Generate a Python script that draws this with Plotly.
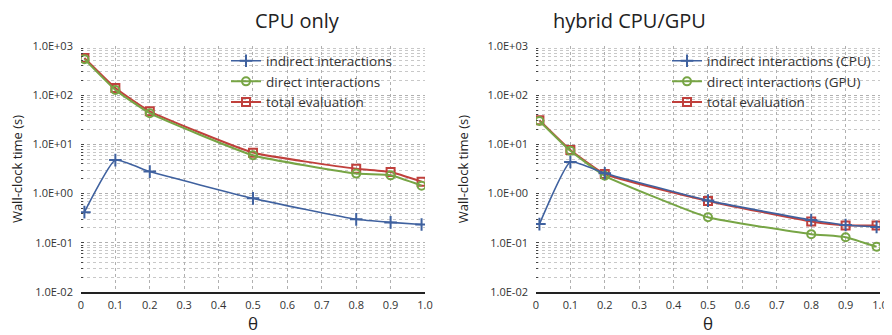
import plotly.graph_objects as go

theta = [0.01, 0.1, 0.2, 0.5, 0.8, 0.9, 0.99]

cpu_indirect = [0.42, 4.8, 2.8, 0.80, 0.30, 0.26, 0.235]
cpu_direct = [540, 128, 43, 6.0, 2.55, 2.35, 1.45]
cpu_total = [570, 140, 47, 6.8, 3.2, 2.75, 1.75]

gpu_indirect = [0.24, 4.4, 2.6, 0.72, 0.29, 0.23, 0.21]
gpu_direct = [30, 7.4, 2.3, 0.33, 0.15, 0.13, 0.083]
gpu_total = [31, 7.7, 2.5, 0.71, 0.27, 0.225, 0.225]

names_left = ["indirect interactions", "direct interactions", "total evaluation"]
names_right = ["indirect interactions (CPU)", "direct interactions (GPU)", "total evaluation"]

x_tickvals = [0, 0.1, 0.2, 0.3, 0.4, 0.5, 0.6, 0.7, 0.8, 0.9, 1.0]
x_ticktext = ["0", "0.1", "0.2", "0.3", "0.4", "0.5", "0.6", "0.7", "0.8", "0.9", "1.0"]
y_tickvals = [0.01, 0.1, 1, 10, 100, 1000]
y_ticktext = ["1.0E-02", "1.0E-01", "1.0E+00", "1.0E+01", "1.0E+02", "1.0E+03"]

BLUE = "#3f619f"
GREEN = "#77a545"
RED = "#c0403c"
FONT = "Open Sans"

fig = go.Figure()

def add_series(xa, ya, legend, ys, names):
    styles = [
        (BLUE, "cross-thin-open", 9, 1.6),
        (GREEN, "circle-open", 8, 2.0),
        (RED, "square-open", 8, 2.0),
    ]
    order = [2, 1, 0]
    for i in order:
        col, sym, sz, lw = styles[i]
        fig.add_trace(go.Scatter(
            x=theta, y=ys[i], name=names[i], xaxis=xa, yaxis=ya, legend=legend,
            mode="lines+markers",
            line=dict(color=col, width=lw, shape="spline", smoothing=0.4),
            marker=dict(symbol=sym, size=sz, color=col, line=dict(color=col, width=2)),
            legendrank=i + 1,
        ))

add_series("x", "y", "legend", [cpu_indirect, cpu_direct, cpu_total], names_left)
add_series("x2", "y2", "legend2", [gpu_indirect, gpu_direct, gpu_total], names_right)

xaxis_common = dict(
    range=[0, 1.0], tickvals=x_tickvals, ticktext=x_ticktext,
    showgrid=True, gridcolor="#b0b0b0", griddash="dot", gridwidth=1,
    showline=True, linecolor="#222222", linewidth=2, mirror=False,
    zeroline=False, ticks="", tickfont=dict(family=FONT, size=11, color="#333"),
    ticklabelstandoff=2,
    title=dict(text="θ", font=dict(family=FONT, size=17, color="#222"), standoff=3),
)
yaxis_common = dict(
    type="log", range=[-2, 3], tickvals=y_tickvals, ticktext=y_ticktext,
    showgrid=True, gridcolor="#b0b0b0", griddash="dot", gridwidth=1,
    minor=dict(showgrid=True, gridcolor="#c8c8c8", griddash="dot", gridwidth=1,
               ticks="inside", ticklen=2, tickcolor="#444", dtick="D1"),
    showline=False, zeroline=False, ticks="inside", ticklen=3, tickcolor="#444",
    tickfont=dict(family=FONT, size=11, color="#333"),
    ticklabelstandoff=7,
    title=dict(text="Wall-clock time (s)", font=dict(family=FONT, size=13, color="#222"), standoff=15),
)

legend_font = dict(family=FONT, size=13.5, color="#333")

fig.update_layout(
    width=892, height=335,
    margin=dict(l=0, r=0, t=0, b=0, autoexpand=False),
    paper_bgcolor="white", plot_bgcolor="white",
    showlegend=True,
    xaxis=dict(domain=[0.0818, 0.4675], anchor="y", **xaxis_common),
    yaxis=dict(domain=[0.1522, 0.8866], anchor="x", **yaxis_common),
    xaxis2=dict(domain=[0.5919, 0.9776], anchor="y2", **xaxis_common),
    yaxis2=dict(domain=[0.1522, 0.8866], anchor="x2", **yaxis_common),
    legend=dict(x=0.2444, y=0.888, xanchor="left", yanchor="top",
                bgcolor="rgba(255,255,255,0)", font=legend_font,
                tracegroupgap=0, itemwidth=30),
    legend2=dict(x=0.7388, y=0.888, xanchor="left", yanchor="top",
                 bgcolor="rgba(255,255,255,0)", font=legend_font,
                 tracegroupgap=0, itemwidth=30),
    annotations=[
        dict(text="CPU only", x=0.2747, y=0.962, xref="paper", yref="paper",
             showarrow=False, font=dict(family=FONT, size=20, color="#222"), yanchor="middle"),
        dict(text="hybrid CPU/GPU", x=0.7848, y=0.962, xref="paper", yref="paper",
             showarrow=False, font=dict(family=FONT, size=20, color="#222"), yanchor="middle"),
    ],
)

fig.write_html("out.html")
